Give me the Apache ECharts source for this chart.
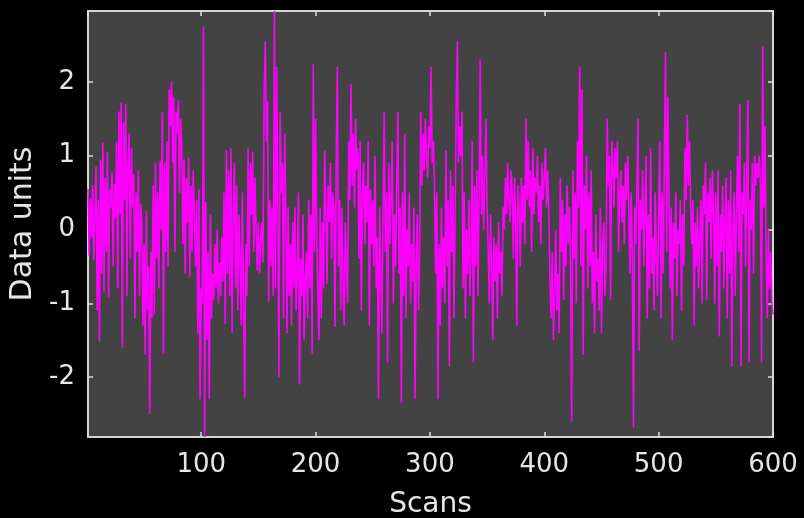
<!DOCTYPE html>
<html><head><meta charset="utf-8">
<script src="https://cdn.jsdelivr.net/npm/echarts@6/dist/echarts.min.js"></script>
<style>html,body{margin:0;padding:0;background:#000;}#c{width:804px;height:518px;}</style>
</head><body><div id="c"></div>
<script>
const xName = 'Scans';
const yName = 'Data units';
const xTicks = [100, 200, 300, 400, 500, 600];
const yTicks = [-2, -1, 0, 1, 2];
const values = [
0.55,-0.35,0.42,-0.1,0.6,-0.42,0.2,0.85,-1.1,0.4,
-1.52,0.95,-0.6,1.18,-0.85,0.7,-0.3,1.05,-0.92,0.55,
0.3,0.78,-0.5,0.62,0.15,1.2,-0.8,1.6,0.2,1.72,
-1.6,1.45,0.4,1.7,-0.9,0.9,1.3,-0.4,1.1,0.3,
0.75,-1.2,0.5,-0.3,0.8,-0.9,0.35,0.1,-1.3,-0.2,
-1.7,0.25,-1.1,-0.5,-2.5,-0.3,-1.2,0.6,-1.15,0.9,
-0.4,0.5,-0.8,0.93,0.0,1.6,-1.68,0.9,-0.3,1.2,
-0.5,1.9,1.4,2.0,0.9,1.8,-0.3,1.6,1.3,1.75,
0.5,1.5,1.1,-0.2,0.95,-0.6,0.7,0.1,0.98,-0.65,
0.6,-0.3,0.8,0.2,-0.5,0.4,-1.4,0.55,-2.3,-0.8,
-1.0,2.75,-2.81,0.38,-1.5,-0.3,-2.3,0.2,-1.2,-0.6,
-0.95,-0.2,-0.8,0.0,-1.0,-0.45,-0.9,-0.1,-0.7,0.5,
-1.28,1.07,-0.6,0.8,-0.9,1.1,-1.4,0.3,0.9,-0.8,
0.6,-1.1,0.2,-0.4,-1.3,0.5,-1.0,-2.27,-0.2,-0.9,
1.1,-0.5,0.9,0.2,1.05,-0.3,0.7,0.0,-0.55,0.1,
-0.6,-0.1,0.1,-0.45,1.8,2.55,1.2,1.74,-0.97,0.4,
-0.5,0.3,-0.9,2.96,-0.8,2.2,0.3,-2.0,1.6,0.5,
0.9,-1.2,1.3,0.2,-1.4,0.3,-0.9,-0.2,-1.3,0.1,
-0.8,0.3,-1.1,-0.6,0.5,-2.1,-0.4,-0.9,0.2,-1.5,
-0.7,-0.3,-1.2,0.4,-0.8,0.2,-1.68,2.24,-0.3,1.5,
-0.1,-0.9,-1.5,0.3,-1.2,0.1,-0.8,1.07,0.2,-0.74,
0.6,0.1,0.9,-0.4,0.5,0.3,-1.32,0.8,2.2,-0.5,
0.4,-1.1,0.3,-0.8,-1.3,0.1,-0.5,-1.0,1.2,0.4,
1.97,0.6,1.3,0.3,1.5,0.8,1.1,-0.4,1.2,-1.1,
0.5,0.9,-0.2,0.6,0.1,1.2,-1.3,0.55,-0.2,0.4,
-0.5,1.0,-0.8,-0.1,-2.3,0.3,-0.6,-1.4,0.2,1.6,
-0.3,0.5,-1.8,0.9,-0.2,0.4,1.2,-1.0,0.2,-0.5,
0.7,1.6,-0.6,0.3,-2.35,0.5,-0.9,1.3,-1.2,0.0,
-0.5,0.5,-1.0,-0.2,-0.7,0.3,-2.3,-0.4,0.2,-1.1,
-0.3,1.6,0.6,1.3,0.8,1.5,1.0,0.7,1.4,1.1,
2.2,0.9,1.2,0.6,-0.6,0.5,-2.3,-0.2,-1.3,0.3,
-0.8,-0.1,-1.0,1.07,-0.5,0.4,-1.85,0.8,-0.3,0.6,
-1.2,0.2,1.7,2.55,0.9,1.4,1.0,1.6,-0.8,0.5,
-1.2,0.0,-0.6,0.4,-0.9,-0.2,1.2,-1.8,0.6,-0.5,
0.8,-0.9,0.5,2.3,0.2,1.0,0.0,0.7,1.5,0.3,
-0.3,-1.0,0.2,-0.5,-1.5,-0.1,-0.7,-0.2,-1.2,0.1,
-0.6,-0.3,-0.9,0.3,0.0,0.7,0.2,0.9,0.4,0.1,
0.8,0.5,-0.4,0.7,0.2,-1.3,0.6,0.3,-0.5,0.7,
0.1,0.6,-0.2,1.5,0.4,1.2,0.3,0.8,-0.3,1.1,
0.2,0.7,0.5,1.0,0.1,0.6,-0.2,0.9,0.4,0.7,
1.1,0.3,0.8,0.2,-0.7,-1.2,-0.3,-1.5,-0.9,0.0,
-1.1,-0.6,-1.4,0.7,-0.3,0.4,-0.95,0.2,-0.5,0.6,
-0.2,0.3,-0.6,-2.6,0.8,-0.4,0.5,-1.0,1.2,0.3,
2.2,-0.5,1.9,-1.7,0.6,0.0,1.0,-0.8,0.5,-0.5,
0.8,-1.0,-0.3,-1.4,0.2,-0.7,-0.4,-1.1,0.3,-1.4,
-0.2,0.1,-0.9,-0.5,1.5,0.6,1.0,-0.95,1.2,0.9,
0.3,1.1,0.7,1.2,-0.3,0.5,0.8,0.1,0.6,-0.2,
0.9,0.4,1.0,0.2,-0.6,0.5,-0.4,-2.68,0.3,-0.2,
0.6,1.5,-1.65,0.4,0.0,0.8,-0.5,0.3,1.0,-1.2,
0.2,-0.8,1.1,-0.6,-0.1,-1.1,0.5,-0.4,-0.9,0.3,
1.2,-1.2,0.5,-0.6,1.0,2.4,-0.3,1.8,0.5,-0.8,
0.3,-1.5,0.1,-0.4,0.5,-0.9,0.0,-0.2,0.4,-1.1,
0.2,-0.5,1.1,0.4,1.55,0.6,1.2,0.3,-0.2,0.4,
-1.3,0.1,-0.5,0.3,-0.8,-0.1,0.4,-1.0,0.6,0.2,
0.9,-0.95,0.5,0.1,0.7,-0.4,0.8,0.3,-1.0,0.5,
-0.5,0.8,-1.45,0.2,-0.3,0.6,-0.8,0.1,0.7,-1.2,
0.4,-0.6,0.8,-1.85,0.0,0.5,-0.9,0.3,1.0,-0.3,
1.7,-1.85,0.5,0.2,0.9,-0.5,0.6,1.75,-1.8,0.4,
0.0,0.9,-0.6,1.0,0.6,0.9,0.7,1.0,0.6,-1.8,
2.48,0.3,1.4,-0.4,-1.2,0.0,-0.8,-0.3,-1.0,-1.15
];
const scans = values.map((v, i) => i + 1);

const yMin = Math.min(...values), yMax = Math.max(...values);
const xMin = scans[0], xMax = scans[scans.length - 1];
const txt = '#e6e6e6';
const font = 'DejaVu Sans';
const xFmt = v => xTicks.includes(v) ? String(v) : '';
const yFmt = v => yTicks.includes(v) ? String(v) : '';
const tickStyle = {show: true, inside: true, length: 5, lineStyle: {color: '#e0e0e0', width: 1.5}};
const hiddenLine = {show: false, onZero: false};
const chart = echarts.init(document.getElementById('c'), null, {renderer: 'canvas'});
chart.setOption({
  backgroundColor: '#000',
  animation: false,
  grid: {left: 88, top: 11, right: 31, bottom: 81, containLabel: false, outerBoundsMode: 'none',
         show: true, backgroundColor: '#434343', borderColor: '#d4d4d4', borderWidth: 2},
  xAxis: [
    {type: 'value', min: xMin, max: xMax, position: 'bottom', name: xName, nameLocation: 'middle', nameGap: 54,
     nameTextStyle: {color: txt, fontSize: 28, fontFamily: font},
     axisLine: hiddenLine, axisTick: tickStyle, splitLine: {show: false},
     axisLabel: {color: txt, fontSize: 26, fontFamily: font, margin: 15, formatter: xFmt, showMinLabel: false}},
    {type: 'value', min: xMin, max: xMax, position: 'top',
     axisLine: hiddenLine, axisTick: tickStyle, splitLine: {show: false}, axisLabel: {show: false}}
  ],
  yAxis: [
    {type: 'value', min: yMin, max: yMax, position: 'left', name: yName, nameLocation: 'middle', nameGap: 49,
     nameTextStyle: {color: txt, fontSize: 30, fontFamily: font},
     axisLine: hiddenLine, axisTick: tickStyle, splitLine: {show: false},
     axisLabel: {color: txt, fontSize: 26, fontFamily: font, margin: 13, formatter: yFmt, showMinLabel: false, showMaxLabel: false}},
    {type: 'value', min: yMin, max: yMax, position: 'right',
     axisLine: hiddenLine, axisTick: tickStyle, splitLine: {show: false}, axisLabel: {show: false}}
  ],
  series: [{
    type: 'line', data: scans.map((s, i) => [s, values[i]]), showSymbol: false, symbol: 'none',
    lineStyle: {color: '#ff00ff', width: 1.6}, z: 1
  }]
});
</script></body></html>
